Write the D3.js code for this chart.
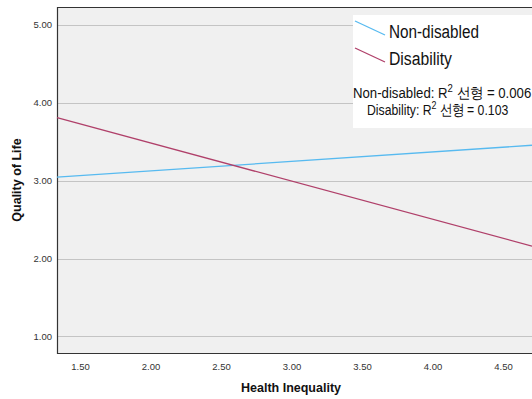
<!DOCTYPE html>
<html>
<head>
<meta charset="utf-8">
<script src="https://cdn.jsdelivr.net/npm/d3@7"></script>
<style>
  body { margin: 0; background: #fff; }
  svg { display: block; font-family: Arial, "Liberation Sans", sans-serif; }
</style>
</head>
<body>
<div id="chart"></div>
<script>
// fit line end points
const xEnds = [1.337, 4.706];
const nonDisabled = [3.045, 3.455];
const disability = [3.81, 2.16];
const seriesNames = ["Non-disabled", "Disability"];
const r2Names = ["Non-disabled", "Disability"];
const r2Values = ["0.006", "0.103"];
const xTicks = [1.5, 2.0, 2.5, 3.0, 3.5, 4.0, 4.5];
const yTicks = [1, 2, 3, 4, 5];

const width = 532;
const height = 399;
const margin = {top: 7, left: 57, right: 0, bottom: 46};

const svg = d3.select("#chart")
  .append("svg")
    .attr("width", width)
    .attr("height", height);

const x = d3.scaleLinear()
  .domain(xEnds)
  .range([margin.left, width - margin.right]);

const y = d3.scaleLinear()
  .domain([0.788, 5.23])
  .range([height - margin.bottom, margin.top]);

// plot background
svg.append("rect")
  .attr("x", margin.left)
  .attr("y", margin.top)
  .attr("width", width - margin.left - margin.right)
  .attr("height", height - margin.top - margin.bottom)
  .attr("fill", "#f0f0f0");

// gridlines
svg.append("g")
  .selectAll("line")
  .data(yTicks)
  .join("line")
    .attr("x1", margin.left)
    .attr("x2", width)
    .attr("y1", d => Math.round(y(d)) + 0.5)
    .attr("y2", d => Math.round(y(d)) + 0.5)
    .attr("stroke", "#c4c4c4")
    .attr("stroke-width", 1);

// axes
const xAxis = svg.append("g")
  .attr("transform", `translate(0,${height - margin.bottom})`)
  .call(d3.axisBottom(x).tickValues(xTicks).tickFormat(d3.format(".2f")).tickSize(0).tickPadding(10));
const yAxis = svg.append("g")
  .attr("transform", `translate(${margin.left},0)`)
  .call(d3.axisLeft(y).tickValues(yTicks).tickFormat(d3.format(".2f")).tickSize(0).tickPadding(5));

[xAxis, yAxis].forEach(function(a) {
  a.select(".domain").remove();
  a.selectAll("text")
    .attr("fill", "#333")
    .style("font-size", "9.5px");
});

// frame: left, bottom, top
svg.append("path")
  .attr("d", `M${width},${margin.top + 0.5}H${margin.left + 0.5}V${height - margin.bottom + 0.5}H${width}`)
  .attr("fill", "none")
  .attr("stroke", "#333")
  .attr("stroke-width", 1.2);

// fit lines
const colors = ["#57baf0", "#b0406a"];
const series = [nonDisabled, disability];
const line = d3.line()
  .x((d, i) => x(xEnds[i]))
  .y(d => y(d));

svg.append("g")
  .selectAll("path")
  .data(series)
  .join("path")
    .attr("d", d => line(d))
    .attr("fill", "none")
    .attr("stroke", (d, i) => colors[i])
    .attr("stroke-width", 1.3);

// legend
const lg = svg.append("g");
lg.append("rect")
  .attr("x", 353)
  .attr("y", 15)
  .attr("width", width - 353)
  .attr("height", 113)
  .attr("fill", "#fff");

const itemW = [90, 63];
seriesNames.forEach(function(name, i) {
  const oy = i * 27;
  lg.append("line")
    .attr("x1", 355).attr("y1", 21 + oy)
    .attr("x2", 385).attr("y2", 35 + oy)
    .attr("stroke", colors[i])
    .attr("stroke-width", 1.3);
  lg.append("text")
    .attr("x", 389)
    .attr("y", 38 + oy)
    .attr("textLength", itemW[i])
    .attr("lengthAdjust", "spacingAndGlyphs")
    .style("font-size", "18px")
    .attr("fill", "#111")
    .text(name);
});

// R² lines, drawn as separate pieces so the superscript sits high
const statX = [353, 367];
const statScale = [0.91, 0.845];
r2Names.forEach(function(n, i) {
  const t = lg.append("text")
    .attr("transform", `translate(${statX[i]},${98 + i * 17}) scale(${statScale[i]},1)`)
    .style("font-size", "14.5px")
    .attr("fill", "#111");
  t.append("tspan").text(n + ": R");
  t.append("tspan").attr("dy", -6).style("font-size", "10.5px").text("2");
  t.append("tspan").attr("dy", 6).text(" 선형 = " + r2Values[i]);
});

// axis titles
svg.append("text")
  .attr("x", 291)
  .attr("y", 392)
  .attr("text-anchor", "middle")
  .style("font-size", "12.5px")
  .style("font-weight", "bold")
  .attr("fill", "#111")
  .text("Health Inequality");

svg.append("text")
  .attr("transform", "translate(21,180) rotate(-90)")
  .attr("text-anchor", "middle")
  .style("font-size", "12.5px")
  .style("font-weight", "bold")
  .attr("fill", "#111")
  .text("Quality of Life");
</script>
</body>
</html>
